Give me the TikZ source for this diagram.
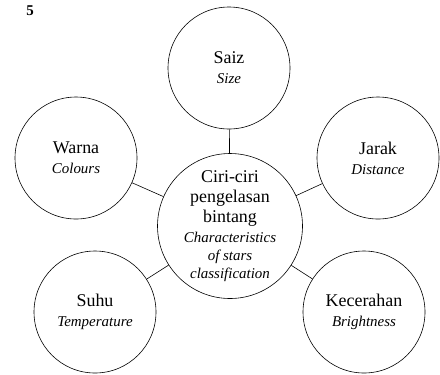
\documentclass[tikz,border=0pt]{standalone}
\usepackage{fontspec}
\setmainfont{Liberation Serif}
\usetikzlibrary{positioning}
\tikzset{bubble/.style={draw, circle, minimum size=122bp, inner sep=0pt, align=center, font=\fontsize{18}{20}\selectfont}}
\newcommand{\eng}[1]{{\fontsize{15}{18}\selectfont\itshape #1}}

\begin{document}
\begin{tikzpicture}[x=1bp, y=-1bp, line width=0.6pt]
            \useasboundingbox (0,0) rectangle (440,374);
            \node[font=\bfseries\fontsize{15}{17}\selectfont] (num) at (30,11) {5};
            \node[bubble, minimum size=145bp] (ciri) at (230,226) {Ciri-ciri\\pengelasan\\bintang\\\eng{Characteristics}\\[-2pt]\eng{of stars}\\[-2pt]\eng{classification}};
            \node[bubble] (saiz) at (229,68) {Saiz\\\eng{Size}};
            \node[bubble] (warna) at (76,158) {Warna\\\eng{Colours}};
            \node[bubble] (jarak) at (378,158) {Jarak\\\eng{Distance}};
            \node[bubble] (suhu) at (95,312) {Suhu\\\eng{Temperature}};
            \node[bubble] (kecerahan) at (364,312) {Kecerahan\\\eng{Brightness}};
            
            \draw (ciri) -- (saiz);
            \draw (ciri) -- (warna);
            \draw (ciri) -- (jarak);
            \draw (ciri) -- (suhu);
            \draw (ciri) -- (kecerahan);
        \end{tikzpicture}
\end{document}
